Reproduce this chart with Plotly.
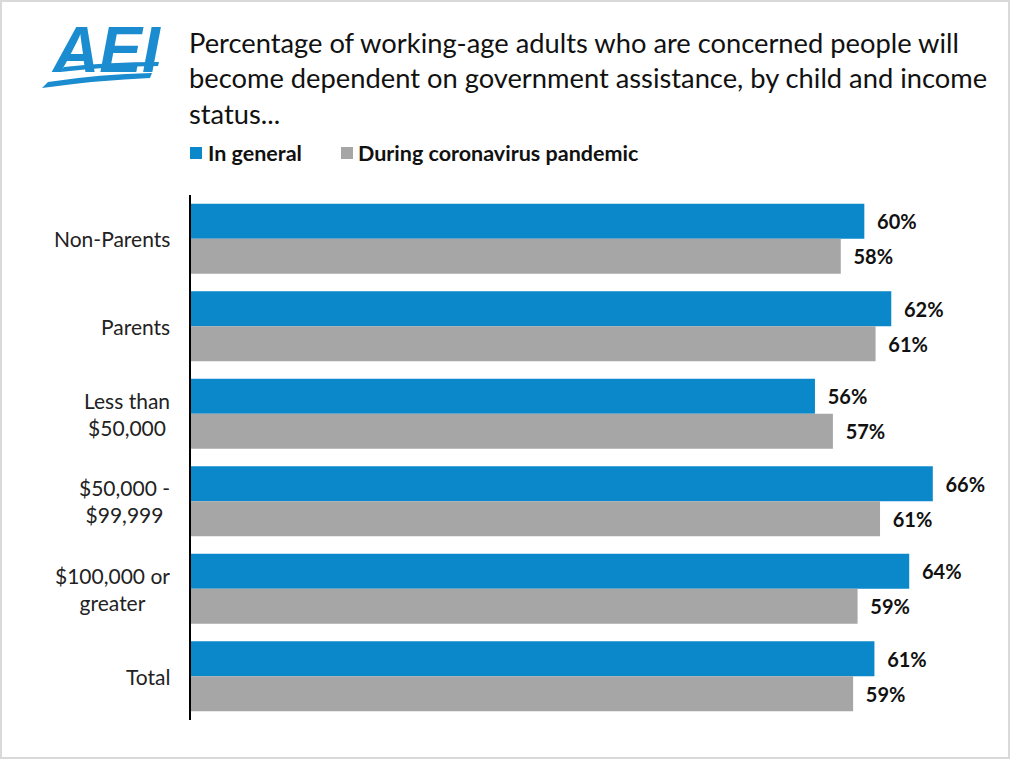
import plotly.graph_objects as go

categories = ["Non-Parents", "Parents", "Less than<br>$50,000", "$50,000 -<br>$99,999",
              "$100,000 or<br>greater", "Total"]
in_general = [60.0, 62.4, 55.6, 66.1, 64.0, 60.9]
during_covid = [57.9, 61.0, 57.2, 61.4, 59.4, 59.0]
series_names = ["In general", "During coronavirus pandemic"]
colors = ["#0A88C9", "#A6A6A6"]

W, H = 1010, 759
L, R, T, B = 191, 11, 195, 39
PW, PH = W - L - R, H - T - B

def px(x):
    return (x - L) / PW

def py(y):
    return (H - B - y) / PH

FONT = "Lato"

fig = go.Figure()
for name, vals, col in zip(series_names, [in_general, during_covid], colors):
    fig.add_trace(go.Bar(
        y=categories, x=vals, name=name, orientation="h",
        marker=dict(color=col, line=dict(width=0)),
        texttemplate="\u00a0\u00a0%{x:.0f}%", textposition="outside",
        textfont=dict(family=FONT, size=20, color="#111111", weight="bold"),
        cliponaxis=False, hoverinfo="skip",
    ))

annotations = []
# category labels (centered multi-line)
for c in categories:
    annotations.append(dict(xref="paper", yref="y", x=px(172), y=c, text=c,
                            showarrow=False, xanchor="right", yanchor="middle",
                            align="center", font=dict(family=FONT, size=21, color="#222222")))
# title
annotations.append(dict(xref="paper", yref="paper", x=px(187), y=py(24),
                        text="Percentage of working-age adults who are concerned people will<br>"
                             "become dependent on government assistance, by child and income<br>status...",
                        showarrow=False, xanchor="left", yanchor="top", align="left",
                        font=dict(family=FONT, size=27.3, color="#111111")))
# legend text
annotations.append(dict(xref="paper", yref="paper", x=px(206), y=py(153), text="<b>" + series_names[0] + "</b>",
                        showarrow=False, xanchor="left", yanchor="middle",
                        font=dict(family=FONT, size=21.5, color="#111111")))
annotations.append(dict(xref="paper", yref="paper", x=px(356), y=py(153), text="<b>" + series_names[1] + "</b>",
                        showarrow=False, xanchor="left", yanchor="middle",
                        font=dict(family=FONT, size=21.5, color="#111111")))
# logo text
annotations.append(dict(xref="paper", yref="paper", x=px(106), y=py(50), text="<b><i>AEI</i></b>",
                        showarrow=False, xanchor="center", yanchor="middle",
                        font=dict(family="Liberation Sans", size=64, color="#1A8CCF")))

shapes = [
    dict(type="rect", xref="paper", yref="paper", x0=px(190), x1=px(202), y0=py(159), y1=py(147),
         fillcolor=colors[0], line=dict(width=0)),
    dict(type="rect", xref="paper", yref="paper", x0=px(341), x1=px(353), y0=py(159), y1=py(147),
         fillcolor=colors[1], line=dict(width=0)),
    dict(type="rect", xref="paper", yref="paper", x0=px(1), x1=px(1009), y0=py(758), y1=py(1),
         line=dict(color="#D9D9D9", width=2)),
    # logo swooshes
    dict(type="path", xref="paper", yref="paper",
         path=f"M {px(42)} {py(88)} Q {px(100)} {py(80)} {px(150)} {py(78)} L {px(152)} {py(73)} "
              f"Q {px(100)} {py(74)} {px(48)} {py(82)} Z",
         fillcolor="#1A8CCF", line=dict(width=0)),
    dict(type="path", xref="paper", yref="paper",
         path=f"M {px(60)} {py(72)} Q {px(110)} {py(66)} {px(158)} {py(66)} L {px(159)} {py(62)} "
              f"Q {px(110)} {py(62)} {px(64)} {py(67)} Z",
         fillcolor="#1A8CCF", line=dict(width=0)),
]

fig.update_layout(
    width=W, height=H, margin=dict(l=L, r=R, t=T, b=B),
    paper_bgcolor="white", plot_bgcolor="white",
    barmode="group", bargap=0.2, bargroupgap=0,
    showlegend=False, hovermode=False,
    xaxis=dict(range=[0, 72], visible=False, fixedrange=True),
    yaxis=dict(autorange="reversed", showticklabels=False, ticks="", fixedrange=True,
               showline=True, linecolor="black", linewidth=2, showgrid=False, zeroline=False),
    annotations=annotations, shapes=shapes,
    font=dict(family=FONT),
)

fig.write_html("out.html", config={"displayModeBar": False},
               post_script="document.body.style.margin='0px';document.body.style.overflow='hidden';")
